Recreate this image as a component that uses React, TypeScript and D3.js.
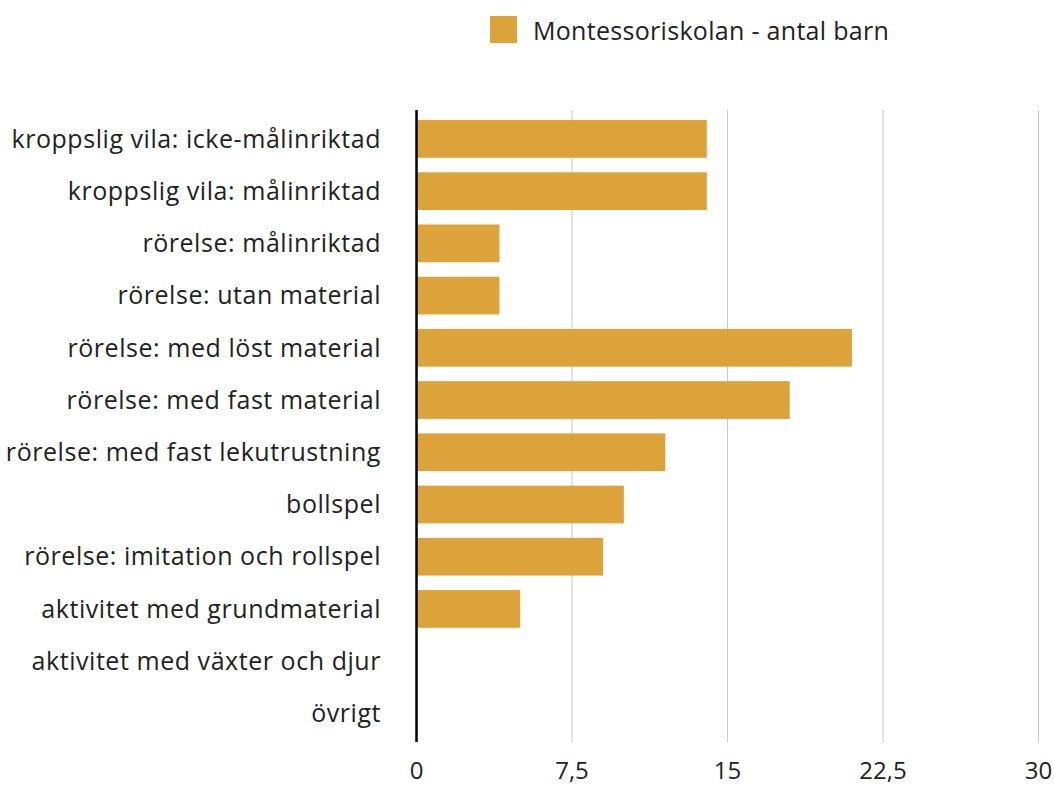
import React, { useRef, useEffect } from "react";
import * as d3 from "d3";

const width = 1054;
const height = 785;

const categories = [
  "kroppslig vila: icke-målinriktad",
  "kroppslig vila: målinriktad",
  "rörelse: målinriktad",
  "rörelse: utan material",
  "rörelse: med löst material",
  "rörelse: med fast material",
  "rörelse: med fast lekutrustning",
  "bollspel",
  "rörelse: imitation och rollspel",
  "aktivitet med grundmaterial",
  "aktivitet med växter och djur",
  "övrigt",
];
const values = [14, 14, 4, 4, 21, 18, 12, 10, 9, 5, 0, 0];
const ticks = [0, 7.5, 15, 22.5, 30];
const seriesName = "Montessoriskolan - antal barn";

const barColor = "#dca33a";
const font = "'Open Sans', 'Noto Sans', sans-serif";

export default function App() {
  const ref = useRef<SVGSVGElement | null>(null);

  useEffect(() => {
    const svg = d3.select(ref.current);
    svg.selectAll("*").remove();

    const x = d3.scaleLinear().domain([0, 30]).range([416.5, 1038.5]);
    const y = d3
      .scaleBand<string>()
      .domain(categories)
      .range([112.8, 739.5])
      .paddingInner(0.278)
      .paddingOuter(0.139);

    // grid lines
    svg
      .append("g")
      .selectAll("line")
      .data(ticks.slice(1))
      .enter()
      .append("line")
      .attr("x1", (d) => x(d))
      .attr("x2", (d) => x(d))
      .attr("y1", 110)
      .attr("y2", 742)
      .attr("stroke", "#c8c8c8")
      .attr("stroke-width", 1);

    // bars
    svg
      .append("g")
      .selectAll("rect")
      .data(values)
      .enter()
      .append("rect")
      .attr("x", x(0))
      .attr("y", (_, i) => y(categories[i])!)
      .attr("width", (d) => x(d) - x(0))
      .attr("height", y.bandwidth())
      .attr("fill", barColor);

    // y axis line
    svg
      .append("line")
      .attr("x1", x(0))
      .attr("x2", x(0))
      .attr("y1", 110)
      .attr("y2", 742)
      .attr("stroke", "#000")
      .attr("stroke-width", 2.5);

    // category labels
    svg
      .append("g")
      .selectAll("text")
      .data(categories)
      .enter()
      .append("text")
      .text((d) => d)
      .attr("x", 381)
      .attr("y", (d) => y(d)! + y.bandwidth() / 2)
      .attr("dy", "0.35em")
      .attr("text-anchor", "end")
      .attr("font-family", font)
      .attr("font-size", 25)
      .attr("letter-spacing", 0.55)
      .attr("fill", "#222");

    // tick labels
    const fmt = (d: number) => String(d).replace(".", ",");
    svg
      .append("g")
      .selectAll("text")
      .data(ticks)
      .enter()
      .append("text")
      .text((d) => fmt(d))
      .attr("x", (d) => x(d))
      .attr("y", 779)
      .attr("text-anchor", "middle")
      .attr("font-family", font)
      .attr("font-size", 24)
      .attr("fill", "#222");

    // legend
    const legend = svg.append("g");
    legend
      .append("rect")
      .attr("x", 490)
      .attr("y", 16)
      .attr("width", 27)
      .attr("height", 27)
      .attr("fill", barColor);
    legend
      .append("text")
      .text(seriesName)
      .attr("x", 533)
      .attr("y", 40)
      .attr("font-family", font)
      .attr("font-size", 25)
      .attr("letter-spacing", 0.3)
      .attr("fill", "#222");
  }, []);

  return (
    <svg
      ref={ref}
      width={width}
      height={height}
      style={{ position: "absolute", left: 0, top: 0 }}
    />
  );
}
